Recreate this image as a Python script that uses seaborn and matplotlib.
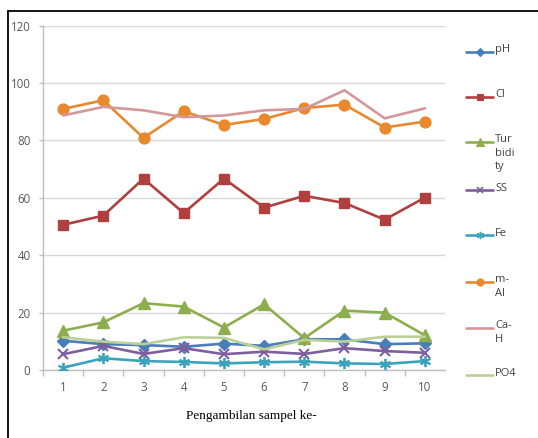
import matplotlib
matplotlib.use("Agg")
import matplotlib.pyplot as plt
from matplotlib.lines import Line2D
import seaborn as sns
import pandas as pd

# Sampling round (x axis)
samples = [1, 2, 3, 4, 5, 6, 7, 8, 9, 10]

# Measured parameters per sampling round
ph = [10.2, 9.0, 8.7, 8.1, 9.2, 8.4, 10.7, 10.7, 9.0, 9.3]
cl = [50.6, 53.8, 66.7, 54.7, 66.7, 56.6, 60.7, 58.2, 52.4, 60.1]
turbidity = [13.7, 16.6, 23.3, 22.1, 14.8, 22.9, 11.1, 20.7, 20.0, 12.1]
ss = [5.5, 8.4, 5.6, 7.6, 5.5, 6.4, 5.6, 7.6, 6.6, 6.0]
fe = [0.8, 4.1, 3.1, 2.8, 2.3, 2.7, 2.9, 2.3, 2.1, 3.1]
m_al = [91.0, 94.0, 80.9, 90.2, 85.4, 87.5, 91.3, 92.5, 84.5, 86.6]
ca_h = [88.7, 91.7, 90.5, 88.1, 88.7, 90.5, 91.0, 97.5, 87.7, 91.2]
po4 = [11.4, 9.9, 9.0, 11.4, 11.2, 7.2, 10.5, 9.9, 11.6, 11.6]

series_names = ["pH", "Cl", "Turbidity", "SS", "Fe", "m-Al", "Ca-H", "PO4"]
legend_labels = ["pH", "Cl", "Tur\nbidi\nty", "SS", "Fe", "m-\nAl", "Ca-\nH", "PO4"]
series_values = [ph, cl, turbidity, ss, fe, m_al, ca_h, po4]

yticks = [0, 20, 40, 60, 80, 100, 120]
xlabel = "Pengambilan sampel ke-"

colors = ["#4A7EBB", "#B0403D", "#8DAE4E", "#7D5E9F", "#3BA3BC",
          "#E8892E", "#D4979B", "#BCD096"]
markers = ["D", "s", "^", "x", (6, 2, 0), "o", None, None]
msizes = [6, 7, 8, 7, 8, 7.8, 0, 0]
mews = [1, 1, 1, 1.5, 1.3, 1, 1, 1]

rows = []
for name, vals in zip(series_names, series_values):
    for s, v in zip(samples, vals):
        rows.append({"sample": s, "value": v, "param": name})
df = pd.DataFrame(rows)

sns.set_theme(style="white")
plt.rcParams["font.family"] = ["Open Sans", "DejaVu Sans"]

W, H = 538, 438
fig = plt.figure(figsize=(W / 100, H / 100), dpi=100)
fig.patch.set_facecolor("white")

# plot area in pixel coordinates
x0, x1, ytop, ybot = 43, 445, 25.7, 370
ax = fig.add_axes([x0 / W, 1 - ybot / H, (x1 - x0) / W, (ybot - ytop) / H])

for i, name in enumerate(series_names):
    sub = df[df["param"] == name]
    kw = {}
    if markers[i] is not None:
        kw = dict(marker=markers[i], markersize=msizes[i],
                  markeredgewidth=mews[i], markeredgecolor=colors[i],
                  markerfacecolor=colors[i])
    sns.lineplot(data=sub, x="sample", y="value", ax=ax, color=colors[i],
                 linewidth=1.9, legend=False, zorder=3 + i, **kw)

ax.set_xlim(0.5, 10.5)
ax.set_ylim(0, 120)
ax.set_yticks(yticks)
ax.set_yticklabels([str(t) for t in yticks])
ax.set_xticks(samples)
ax.set_xticklabels([str(s) for s in samples])
ax.set_xticks([s + 0.5 for s in samples[:-1]] + [0.5], minor=True)
ax.grid(axis="y", color="#D9D9D9", linewidth=1.0)
ax.grid(axis="x", visible=False)
ax.set_axisbelow(True)
for side in ["top", "right"]:
    ax.spines[side].set_visible(False)
for side in ["left", "bottom"]:
    ax.spines[side].set_color("#BFBFBF")
    ax.spines[side].set_linewidth(1.0)
ax.tick_params(axis="y", which="major", left=True, length=3, width=1,
               color="#BFBFBF", labelsize=8.3, labelcolor="#595959", pad=6)
ax.tick_params(axis="x", which="major", bottom=False, length=0,
               labelsize=8.3, labelcolor="#595959", pad=8)
ax.tick_params(axis="x", which="minor", bottom=True, length=4, width=1,
               color="#BFBFBF")
ax.set_xlabel("")
ax.set_ylabel("")

fig.text(251 / W, 1 - 416.5 / H, xlabel, ha="center", va="center",
         fontsize=9.5, family=["Liberation Serif"], color="#000000")

# legend drawn at the right of the plot area
leg_y = [51.7, 96.7, 141.7, 190, 235, 281.7, 328, 375]
lx0, lx1, tx = 466, 493, 495
for i, lab in enumerate(legend_labels):
    yy = 1 - leg_y[i] / H
    ln = Line2D([lx0 / W, lx1 / W], [yy, yy], color=colors[i], linewidth=1.9,
                transform=fig.transFigure)
    fig.add_artist(ln)
    if markers[i] is not None:
        mk = Line2D([(lx0 + lx1) / 2 / W], [yy], color=colors[i],
                    marker=markers[i], markersize=msizes[i] * 0.65,
                    markeredgewidth=mews[i] * 0.8, markeredgecolor=colors[i],
                    markerfacecolor=colors[i], linestyle="none",
                    transform=fig.transFigure)
        fig.add_artist(mk)
    fig.text(tx / W, 1 - (leg_y[i] - 7.5) / H, lab, ha="left", va="top",
             fontsize=8, color="#404040", linespacing=1.3)

# outer frame (left and top edges)
fig.add_artist(Line2D([8.3 / W, 8.3 / W], [0, 1 - 10.7 / H], color="black",
                      linewidth=1.3, transform=fig.transFigure))
fig.add_artist(Line2D([8.3 / W, 1], [1 - 10.7 / H, 1 - 10.7 / H],
                      color="black", linewidth=1.3, transform=fig.transFigure))

fig.savefig("out.png", dpi=100)
